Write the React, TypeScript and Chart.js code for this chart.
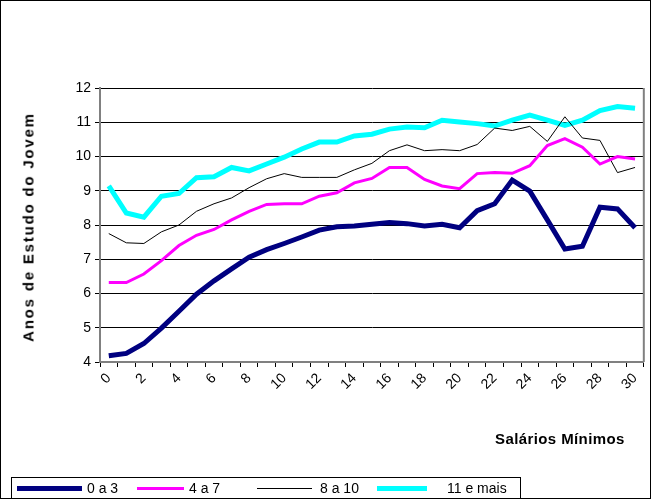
import { useEffect, useRef } from "react"
import { Chart, registerables } from "chart.js"

Chart.register(...registerables)

const salarios = Array.from({ length: 31 }, (_, i) => String(i))
const serie0a3 = [4.18, 4.25, 4.54, 4.99, 5.48, 5.98, 6.37, 6.72, 7.06, 7.28, 7.46, 7.65, 7.85, 7.95, 7.97, 8.02, 8.07, 8.04, 7.97, 8.02, 7.92, 8.42, 8.62, 9.31, 8.99, 8.15, 7.3, 7.38, 8.52, 8.47, 7.92]
const serie4a7 = [6.32, 6.32, 6.57, 6.96, 7.4, 7.7, 7.87, 8.15, 8.4, 8.6, 8.62, 8.62, 8.84, 8.94, 9.23, 9.36, 9.68, 9.68, 9.33, 9.14, 9.06, 9.5, 9.53, 9.51, 9.73, 10.32, 10.52, 10.27, 9.78, 10.0, 9.93]
const serie8a10 = [7.75, 7.48, 7.46, 7.8, 8.0, 8.4, 8.62, 8.79, 9.09, 9.35, 9.5, 9.39, 9.39, 9.39, 9.61, 9.8, 10.17, 10.34, 10.17, 10.2, 10.17, 10.35, 10.83, 10.76, 10.88, 10.44, 11.16, 10.54, 10.47, 9.53, 9.68]
const serie11mais = [9.14, 8.35, 8.23, 8.84, 8.92, 9.38, 9.41, 9.68, 9.58, 9.78, 9.98, 10.22, 10.42, 10.42, 10.6, 10.65, 10.8, 10.86, 10.84, 11.06, 11.01, 10.96, 10.89, 11.06, 11.21, 11.06, 10.91, 11.06, 11.34, 11.46, 11.41]

const font = "'Liberation Sans', Arial, sans-serif"

const legendItems = [
  { label: "0 a 3", color: "#000080", width: 5, lineLeft: 5, lineW: 65, textLeft: 75 },
  { label: "4 a 7", color: "#ff00ff", width: 3, lineLeft: 125, lineW: 47, textLeft: 177 },
  { label: "8 a 10", color: "#000000", width: 1, lineLeft: 245, lineW: 55, textLeft: 308 },
  { label: "11 e mais", color: "#00ffff", width: 5, lineLeft: 365, lineW: 50, textLeft: 435 },
]

// gray frame on the right side of the plot area
const plotFrame = {
  id: "plotFrame",
  afterDraw(chart: any) {
    const { ctx, chartArea } = chart
    ctx.save()
    ctx.strokeStyle = "#808080"
    ctx.lineWidth = 2
    ctx.beginPath()
    ctx.moveTo(chartArea.right, chartArea.top)
    ctx.lineTo(chartArea.right, chartArea.bottom)
    ctx.stroke()
    ctx.restore()
  },
}

function LineChart() {
  const chartRef = useRef<HTMLCanvasElement>(null)
  const chartInstance = useRef<Chart | null>(null)

  useEffect(() => {
    if (!chartRef.current) return
    if (chartInstance.current) chartInstance.current.destroy()
    const ctx = chartRef.current.getContext("2d")
    if (!ctx) return

    const ds = (label: string, data: number[], color: string, width: number) => ({
      label,
      data,
      borderColor: color,
      backgroundColor: color,
      borderWidth: width,
      pointRadius: 0,
      tension: 0,
      fill: false,
    })

    chartInstance.current = new Chart(ctx, {
      type: "line",
      data: {
        labels: salarios,
        datasets: [
          ds("0 a 3", serie0a3, "#000080", 5),
          ds("4 a 7", serie4a7, "#ff00ff", 3),
          ds("8 a 10", serie8a10, "#000000", 1),
          ds("11 e mais", serie11mais, "#00ffff", 5),
        ],
      },
      options: {
        animation: false,
        responsive: false,
        layout: { padding: { top: 87, right: 5, left: 0, bottom: 0 } },
        plugins: { legend: { display: false }, tooltip: { enabled: false } },
        scales: {
          x: {
            offset: true,
            afterFit: (scale: any) => {
              scale.height = 136
            },
            grid: { offset: true, drawOnChartArea: false, tickLength: 5, color: "#000" },
            border: { color: "#808080", width: 2 },
            ticks: {
              autoSkip: false,
              maxRotation: 45,
              minRotation: 45,
              color: "#000",
              font: { family: font, size: 14 },
              callback: (_v: any, i: number) => (i % 2 === 0 ? String(i) : ""),
            },
          },
          y: {
            min: 4,
            max: 12,
            afterFit: (scale: any) => {
              scale.width = 99
            },
            grid: { color: "#000", tickLength: 5 },
            border: { color: "#808080", width: 2 },
            ticks: { stepSize: 1, color: "#000", font: { family: font, size: 14 }, padding: 4 },
          },
        },
      },
      plugins: [plotFrame],
    })

    return () => {
      if (chartInstance.current) chartInstance.current.destroy()
    }
  }, [])

  return <canvas ref={chartRef} width={649} height={497} style={{ display: "block" }} />
}

export default function App() {
  useEffect(() => {
    document.body.style.margin = "0"
  }, [])
  return (
    <div
      style={{
        position: "relative",
        width: 651,
        height: 499,
        border: "1px solid #000",
        boxSizing: "border-box",
        background: "#fff",
        fontFamily: font,
        overflow: "hidden",
      }}
    >
      <LineChart />
      <div
        style={{
          position: "absolute",
          left: 27,
          top: 226,
          transform: "translate(-50%, -50%) rotate(-90deg)",
          whiteSpace: "nowrap",
          fontWeight: "bold",
          fontSize: 15,
          letterSpacing: 1.8,
        }}
      >
        Anos de Estudo do Jovem
      </div>
      <div
        style={{
          position: "absolute",
          left: 494,
          top: 429,
          fontWeight: "bold",
          fontSize: 15,
          letterSpacing: 0.4,
        }}
      >
        Salários Mínimos
      </div>
      <div
        style={{
          position: "absolute",
          left: 10,
          top: 476,
          width: 510,
          height: 30,
          border: "1px solid #000",
          boxSizing: "border-box",
          fontSize: 14,
        }}
      >
        {legendItems.map((it) => (
          <div key={it.label}>
            <div
              style={{
                position: "absolute",
                left: it.lineLeft,
                top: 10 - it.width / 2,
                width: it.lineW,
                height: it.width,
                background: it.color,
              }}
            />
            <div style={{ position: "absolute", left: it.textLeft, top: 2 }}>{it.label}</div>
          </div>
        ))}
      </div>
    </div>
  )
}
